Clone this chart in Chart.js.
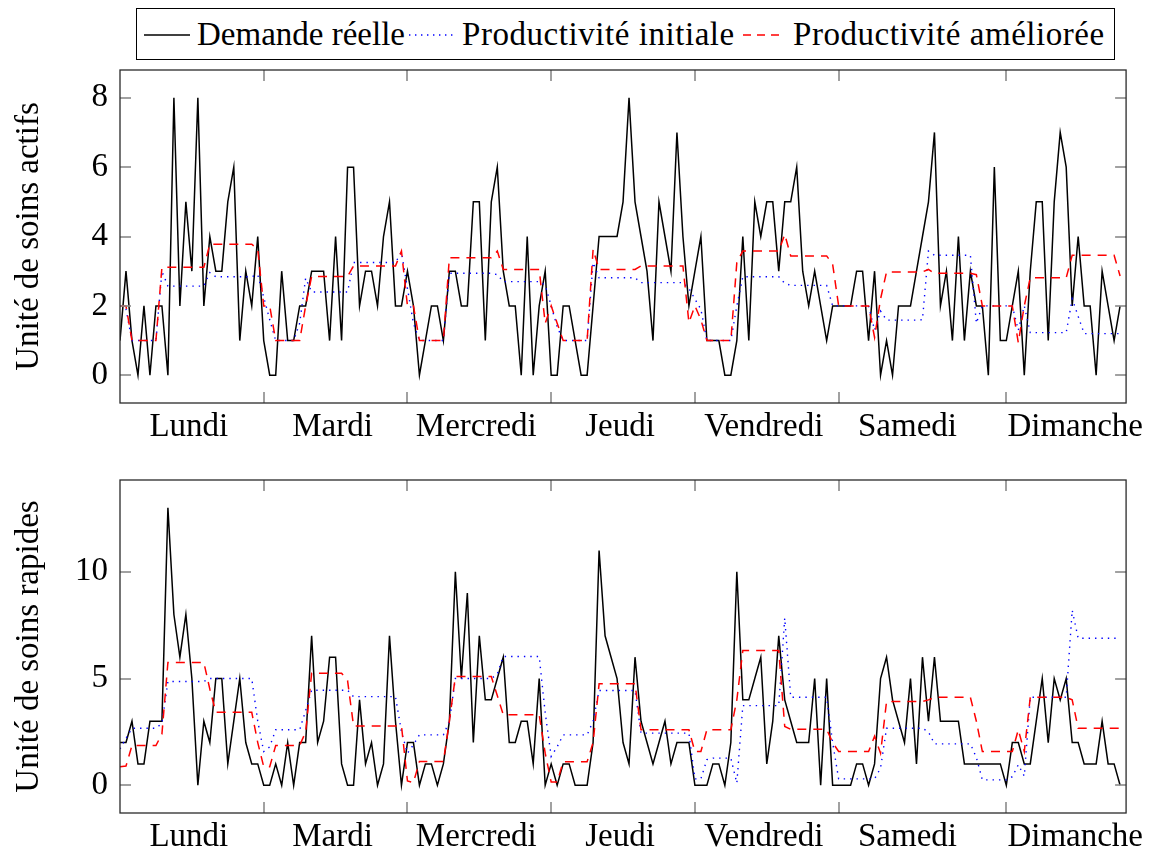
<!DOCTYPE html>
<html lang="fr">
<head>
<meta charset="utf-8">
<title>Demande et productivité par heure</title>
<script src="https://cdn.jsdelivr.net/npm/chart.js@4.4.1/dist/chart.umd.min.js"></script>
<style>
  html, body { margin: 0; padding: 0; background: #fff; }
  body { width: 1149px; height: 854px; position: relative; overflow: hidden;
         font-family: 'Liberation Serif', 'Times New Roman', serif; color: #000; }
  #legend { position: absolute; left: 136px; top: 8px; width: 979px; height: 52px;
            box-sizing: border-box; border: 1.3px solid #000; background: #fff; z-index: 2; }
  #legend .item { position: absolute; top: 0; height: 50px; line-height: 50px; font-size: 33px; white-space: nowrap; }
  #legend .wide { letter-spacing: 0.55px; }
  #legend svg { position: absolute; top: 24px; }
  canvas { position: absolute; left: 0; }
</style>
</head>
<body>
<div id="legend">
  <svg style="left:7px" width="46" height="4"><line x1="0" y1="2" x2="46" y2="2" stroke="#000" stroke-width="1.4"/></svg>
  <span class="item" style="left:60px">Demande réelle</span>
  <svg style="left:272px" width="47" height="4"><line x1="0" y1="2" x2="47" y2="2" stroke="#0000ff" stroke-width="1.4" stroke-dasharray="1.4 4.6"/></svg>
  <span class="item wide" style="left:325px">Productivité initiale</span>
  <svg style="left:606px" width="42" height="4"><line x1="0" y1="2" x2="42" y2="2" stroke="#ff0000" stroke-width="1.5" stroke-dasharray="8 6"/></svg>
  <span class="item wide" style="left:656px">Productivité améliorée</span>
</div>
<canvas id="active" width="1149" height="455" style="top:0px"></canvas>
<canvas id="rapid" width="1149" height="414" style="top:440px"></canvas>
<script>
// Hourly values over one week (24 values per day, Monday to Sunday)
const dayNames = ['Lundi', 'Mardi', 'Mercredi', 'Jeudi', 'Vendredi', 'Samedi', 'Dimanche'];
const dayLabelPos = [11.5, 35.5, 59.5, 83.5, 107.5, 131.5, 159.5];
const dayTickPos = [24, 48, 72, 96, 120, 148];
const activeTickVals = [0, 2, 4, 6, 8];
const rapidTickVals = [0, 5, 10];

// Unité de soins actifs
const activeDemand = [
  1,3,1,0,2,0,2,2,0,8,2,5,3,8,2,4,3,3,5,6,1,3,2,4,
  1,0,0,3,1,1,2,2,3,3,3,1,4,1,6,6,2,3,3,2,4,5,2,2,
  3,2,0,1,2,2,1,3,3,2,2,5,5,1,5,6,3,2,2,0,4,0,2,3,
  0,0,2,2,1,0,0,2,4,4,4,4,5,8,5,4,3,1,5,4,3,7,4,2,
  3,4,1,1,1,0,0,1,4,1,5,4,5,5,3,5,5,6,3,2,3,2,1,2,
  2,2,2,3,3,1,3,0,1,0,2,2,2,3,4,5,7,2,3,1,4,1,3,2,
  2,0,6,1,1,2,3,0,3,5,5,1,5,7,6,2,4,2,2,0,3,2,1,2
];
const activeInitial = [
  2.0,1.9,1.0,1.0,1.0,1.0,1.0,3.0,2.57,2.57,2.57,2.57,2.57,2.57,2.57,2.96,2.84,2.84,2.84,2.84,2.84,2.84,2.84,2.9,
  2.25,1.6,1.0,1.0,1.0,1.0,1.5,2.8,2.4,2.4,2.4,2.4,2.4,2.4,2.4,3.25,3.25,3.25,3.25,3.25,3.25,3.25,3.25,3.55,
  2.5,1.5,1.0,1.0,1.0,1.0,1.0,2.94,2.94,2.94,2.94,2.94,2.94,2.94,2.94,2.9,2.7,2.7,2.7,2.7,2.7,2.7,2.7,2.6,
  2.0,1.4,1.0,1.0,1.0,1.0,1.0,3.25,2.81,2.81,2.81,2.81,2.81,2.81,2.81,2.67,2.67,2.67,2.67,2.67,2.67,2.67,2.67,2.5,
  2.2,1.9,1.0,1.0,1.0,1.0,1.0,2.0,2.84,2.84,2.84,2.84,2.84,2.84,2.84,2.65,2.59,2.59,2.59,2.59,2.59,2.59,2.59,2.0,
  2.0,2.0,2.0,2.0,2.0,2.0,1.3,1.85,1.59,1.59,1.59,1.59,1.59,1.59,1.6,3.58,3.46,3.46,3.46,3.46,3.46,3.46,3.46,1.5,
  2.0,2.0,2.0,2.0,2.0,2.0,1.3,2.0,1.23,1.23,1.23,1.23,1.23,1.23,1.23,2.2,1.7,1.2,1.2,1.2,1.2,1.2,1.2,1.2
];
const activeImproved = [
  2.0,2.0,1.0,1.0,1.0,1.0,1.0,3.11,3.11,3.11,3.11,3.11,3.11,3.11,3.11,3.78,3.78,3.78,3.78,3.78,3.78,3.78,3.78,3.63,
  2.0,2.0,1.0,1.0,1.0,1.0,1.0,2.0,2.85,2.85,2.85,2.85,2.85,2.85,2.85,3.15,3.15,3.15,3.15,3.15,3.15,3.15,3.15,3.58,
  2.0,2.0,1.0,1.0,1.0,1.0,1.0,3.39,3.39,3.39,3.39,3.39,3.39,3.39,3.39,3.58,3.05,3.05,3.05,3.05,3.05,3.05,3.05,1.5,
  2.0,1.5,1.0,1.0,1.0,1.0,1.0,3.63,3.05,3.05,3.05,3.05,3.05,3.05,3.05,3.15,3.15,3.15,3.15,3.15,3.15,3.15,3.15,1.52,
  2.0,1.6,1.0,1.0,1.0,1.0,1.0,3.25,3.58,3.58,3.58,3.58,3.58,3.58,3.58,4.06,3.44,3.44,3.44,3.44,3.44,3.44,3.44,3.2,
  2.0,2.0,2.0,2.0,2.0,2.0,1.09,2.2,2.98,2.98,2.98,2.98,2.98,2.98,2.98,3.05,2.94,2.94,2.94,2.94,2.94,2.94,2.94,2.9,
  2.0,2.0,2.0,2.0,2.0,2.0,0.94,2.0,2.81,2.81,2.81,2.81,2.81,2.81,2.81,3.46,3.46,3.46,3.46,3.46,3.46,3.46,3.46,2.86
];

// Unité de soins rapides
const rapidDemand = [
  2,2,3,1,1,3,3,3,13,8,6,8,5,0,3,2,5,5,1,3,5,2,1,1,
  0,0,1,0,2,0,2,2,7,2,3,6,6,1,0,0,4,1,2,0,1,7,3,0,
  2,2,0,1,1,0,1,3,10,5,9,2,7,4,4,5,6,2,2,3,3,1,5,0,
  1,0,1,1,0,0,0,2,11,7,6,5,2,1,6,3,2,1,2,3,1,2,2,2,
  0,0,0,1,1,0,2,10,4,4,5,6,1,3,7,4,3,2,2,2,5,0,5,0,
  0,0,0,1,1,0,1,5,6,4,3,2,5,1,6,3,6,3,3,3,3,1,1,1,
  1,1,1,1,0,2,2,1,1,3,5,2,5,4,5,2,2,1,1,1,3,1,1,0
];
const rapidInitial = [
  1.7,2.2,2.67,2.67,2.67,2.67,2.67,2.9,4.86,4.86,4.86,4.86,4.86,4.86,4.86,5.0,5.0,5.0,5.0,5.0,5.0,5.0,5.0,3.0,
  1.58,1.8,2.6,2.6,2.6,2.6,2.6,3.5,4.45,4.45,4.45,4.45,4.45,4.45,4.45,4.15,4.15,4.15,4.15,4.15,4.15,4.15,4.15,2.5,
  1.5,1.9,2.36,2.36,2.36,2.36,2.36,3.0,5.0,5.0,5.0,5.0,5.0,5.0,5.0,5.2,6.03,6.03,6.03,6.03,6.03,6.03,6.03,3.4,
  1.35,1.8,2.36,2.36,2.36,2.36,2.36,3.0,4.44,4.44,4.44,4.44,4.44,4.44,4.44,2.44,2.44,2.44,2.44,2.44,2.44,2.44,2.44,2.44,
  0.3,0.3,1.2,1.27,1.27,1.27,1.27,0.1,3.73,3.73,3.73,3.73,3.73,3.73,3.73,7.83,4.12,4.12,4.12,4.12,4.12,4.12,4.12,2.0,
  0.3,0.3,0.3,0.3,0.3,0.3,0.3,0.8,2.67,2.67,2.67,2.67,2.67,2.67,2.67,2.5,1.94,1.94,1.94,1.94,1.94,1.94,1.94,1.3,
  0.25,0.25,0.25,0.25,0.25,0.4,0.96,0.43,4.12,4.12,4.12,4.12,4.12,4.12,4.12,8.2,6.89,6.89,6.89,6.89,6.89,6.89,6.89,6.89
];
const rapidImproved = [
  0.87,0.9,1.86,1.86,1.86,1.86,1.86,2.4,5.75,5.75,5.75,5.75,5.75,5.75,5.75,4.5,3.42,3.42,3.42,3.42,3.42,3.42,3.42,2.0,
  0.87,0.87,1.86,1.86,1.86,1.86,1.86,2.5,5.25,5.25,5.25,5.25,5.25,5.25,4.9,2.78,2.78,2.78,2.78,2.78,2.78,2.78,2.78,2.78,
  0.2,0.13,1.11,1.11,1.11,1.11,1.11,3.0,5.09,5.09,5.09,5.09,5.09,5.09,5.09,4.2,3.3,3.3,3.3,3.3,3.3,3.3,3.3,1.5,
  0.15,0.15,1.1,1.1,1.1,1.1,1.1,2.0,4.75,4.75,4.75,4.75,4.75,4.75,4.75,2.6,2.6,2.6,2.6,2.6,2.6,2.6,2.6,2.6,
  1.58,1.58,2.6,2.6,2.6,2.6,2.6,4.0,6.31,6.31,6.31,6.31,6.31,6.31,6.31,2.75,2.62,2.62,2.62,2.62,2.62,2.62,2.62,2.0,
  1.58,1.58,1.58,1.58,1.58,1.58,2.3,1.5,3.92,3.92,3.92,3.92,3.92,3.92,3.92,4.0,4.12,4.12,4.12,4.12,4.12,4.12,4.12,3.0,
  1.58,1.58,1.58,1.58,1.58,1.58,2.6,1.58,4.12,4.12,4.12,4.12,4.12,4.12,4.12,4.0,2.67,2.67,2.67,2.67,2.67,2.67,2.67,2.67
];

Chart.defaults.font.family = "'Liberation Serif', 'Times New Roman', serif";
Chart.defaults.font.size = 33;
Chart.defaults.color = '#000';

// Plot frame plus inward tick marks on all four sides
const frameTicks = {
  id: 'frameTicks',
  afterDraw(chart, args, opts) {
    const { ctx, chartArea: a, scales } = chart;
    const L = 11;
    const seg = (x1, y1, x2, y2) => { ctx.beginPath(); ctx.moveTo(x1, y1); ctx.lineTo(x2, y2); ctx.stroke(); };
    ctx.save();
    ctx.strokeStyle = '#8a8a8a';
    ctx.lineWidth = 1.6;
    opts.xMarks.forEach(v => {
      const x = Math.round(scales.x.getPixelForValue(v));
      seg(x, a.bottom, x, a.bottom - L);
      seg(x, a.top, x, a.top + L);
    });
    scales.y.ticks.forEach(t => {
      const y = Math.round(scales.y.getPixelForValue(t.value));
      seg(a.left, y, a.left + L, y);
      seg(a.right, y, a.right - L, y);
    });
    ctx.strokeStyle = '#2a2a2a';
    ctx.lineWidth = 1.3;
    ctx.strokeRect(a.left, a.top, a.right - a.left, a.bottom - a.top);
    ctx.restore();
  }
};

function makePanel(id, demand, initial, improved, yTitle, yTickVals, yMin, yMax, padTop, xAxisHeight) {
  const toPoints = vals => vals.map((v, i) => ({ x: i, y: v }));
  return new Chart(document.getElementById(id), {
    type: 'line',
    data: {
      datasets: [
        { label: 'Demande réelle', data: toPoints(demand), borderColor: '#000000',
          borderWidth: 1.5, order: 3 },
        { label: 'Productivité initiale', data: toPoints(initial), borderColor: '#0000ff',
          borderWidth: 1.4, borderDash: [1.4, 5], order: 2 },
        { label: 'Productivité améliorée', data: toPoints(improved), borderColor: '#ff0000',
          borderWidth: 1.5, borderDash: [9, 7], order: 1 }
      ]
    },
    options: {
      responsive: false,
      animation: false,
      devicePixelRatio: 1,
      events: [],
      elements: {
        point: { radius: 0 },
        line: { tension: 0, fill: false, borderJoinStyle: 'miter' }
      },
      layout: { padding: { top: padTop, right: 20, bottom: 0, left: 0 } },
      plugins: {
        legend: { display: false },
        tooltip: { enabled: false },
        frameTicks: { xMarks: dayTickPos }
      },
      scales: {
        x: {
          type: 'linear', min: 0, max: 168,
          grid: { display: false, drawTicks: false },
          border: { display: false },
          afterBuildTicks: s => { s.ticks = dayLabelPos.map(v => ({ value: v })); },
          afterFit: s => { s.height = xAxisHeight; },
          ticks: { autoSkip: false, maxRotation: 0, minRotation: 0, padding: 5,
                   callback: (v, i) => dayNames[i] }
        },
        y: {
          min: yMin, max: yMax,
          grid: { display: false, drawTicks: false },
          border: { display: false },
          afterBuildTicks: s => { s.ticks = yTickVals.map(v => ({ value: v })); },
          afterFit: s => { s.width = 120; },
          ticks: { padding: 12 },
          title: { display: true, text: yTitle, padding: { top: 10, bottom: 0 } }
        }
      }
    },
    plugins: [frameTicks]
  });
}

makePanel('active', activeDemand, activeInitial, activeImproved,
          'Unité de soins actifs', activeTickVals, -0.8, 8.8, 70, 52);
makePanel('rapid', rapidDemand, rapidInitial, rapidImproved,
          'Unité de soins rapides', rapidTickVals, -1.3, 14.3, 40, 41);
</script>
</body>
</html>
